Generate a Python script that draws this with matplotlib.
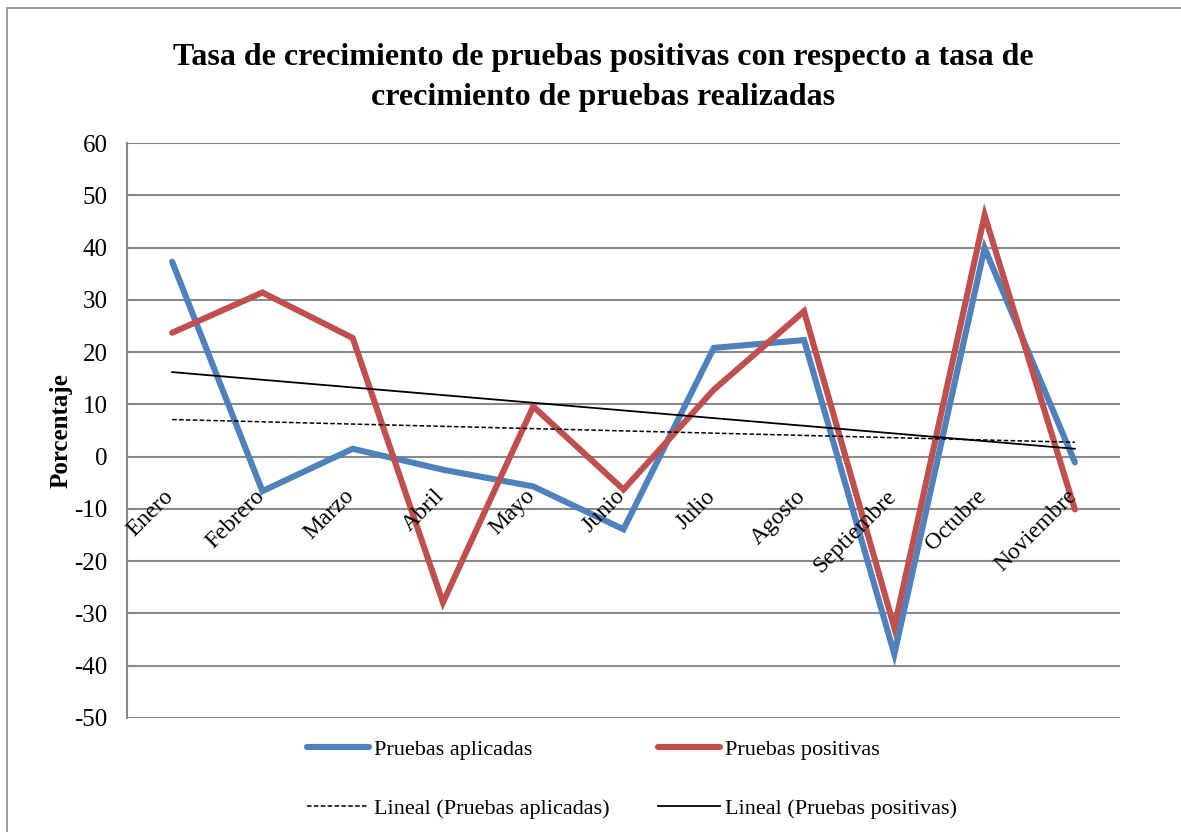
import numpy as np
import matplotlib
matplotlib.use("Agg")
import matplotlib.pyplot as plt
from matplotlib.patches import Rectangle

plt.rcParams['font.family'] = ['Liberation Serif', 'DejaVu Serif']

# Datos
meses = ["Enero", "Febrero", "Marzo", "Abril", "Mayo", "Junio", "Julio",
         "Agosto", "Septiembre", "Octubre", "Noviembre"]
pruebas_aplicadas = [37.3, -6.6, 1.5, -2.5, -5.7, -13.9, 20.8, 22.3, -37.8, 39.9, -1.1]
pruebas_positivas = [23.7, 31.4, 22.7, -27.9, 9.6, -6.3, 12.8, 27.8, -32.7, 46.2, -10.1]
ticks_y = list(range(-50, 61, 10))

azul = "#4F81BD"
rojo = "#C0504D"
gris = "#898989"

x = np.arange(len(meses))

# lineas de tendencia (ajuste lineal como en Excel)
p_apl = np.polyfit(x, pruebas_aplicadas, 1)
p_pos = np.polyfit(x, pruebas_positivas, 1)

fig = plt.figure(figsize=(11.81, 8.32), dpi=100)
ax = fig.add_axes([127/1181, 1 - 718/832, (1120 - 127)/1181, (718 - 143)/832])

# borde del area del grafico
fig.patches.append(Rectangle((7/1181, -0.1), 1.2, 1 - 8/832 + 0.1, transform=fig.transFigure,
                             fill=False, edgecolor="#8c8c8c", linewidth=1.2))

for t in ticks_y:
    ax.axhline(t, color=gris, linewidth=1.5, zorder=1)

l1, = ax.plot(x, pruebas_aplicadas, color=azul, linewidth=4.4, solid_capstyle='round',
              solid_joinstyle='miter', label="Pruebas aplicadas", zorder=3)
l2, = ax.plot(x, pruebas_positivas, color=rojo, linewidth=4.4, solid_capstyle='round',
              solid_joinstyle='miter', label="Pruebas positivas", zorder=3)
l3, = ax.plot(x, np.polyval(p_apl, x), color="black", linewidth=1.1, linestyle=(0, (3, 1.5)),
              label="Lineal (Pruebas aplicadas)", zorder=4)
l4, = ax.plot(x, np.polyval(p_pos, x), color="black", linewidth=1.3,
              label="Lineal (Pruebas positivas)", zorder=4)

ax.set_xlim(-0.5, len(meses) - 0.5)
ax.set_ylim(-50, 60)
ax.set_yticks(ticks_y)
ax.set_yticklabels([str(t) for t in ticks_y], fontsize=18)
ax.tick_params(axis='y', length=0, pad=14)
ax.set_xticks([])
for s in ["top", "right", "bottom"]:
    ax.spines[s].set_visible(False)
ax.spines["left"].set_color(gris)
ax.spines["left"].set_linewidth(1.5)

for i, m in enumerate(meses):
    ax.annotate(m, xy=(i, 0), xytext=(6, -29), textcoords='offset pixels',
                rotation=45, ha='right', va='top', fontsize=17, zorder=5)

ax.set_ylabel("Porcentaje", fontsize=18, fontweight='bold', labelpad=1)

fig.text(603/1181, 1 - 78/832,
         "Tasa de crecimiento de pruebas positivas con respecto a tasa de\ncrecimiento de pruebas realizadas",
         ha='center', va='center', fontsize=23, fontweight='bold', linespacing=1.5)

fig.legend(handles=[l1, l3, l2, l4], loc='center', bbox_to_anchor=(632/1181, 1 - 779/832),
           ncol=2, frameon=False, fontsize=16, handlelength=2.8, handletextpad=0.25,
           columnspacing=2.15, labelspacing=1.75, borderpad=0)

fig.savefig("out.png", dpi=100)
